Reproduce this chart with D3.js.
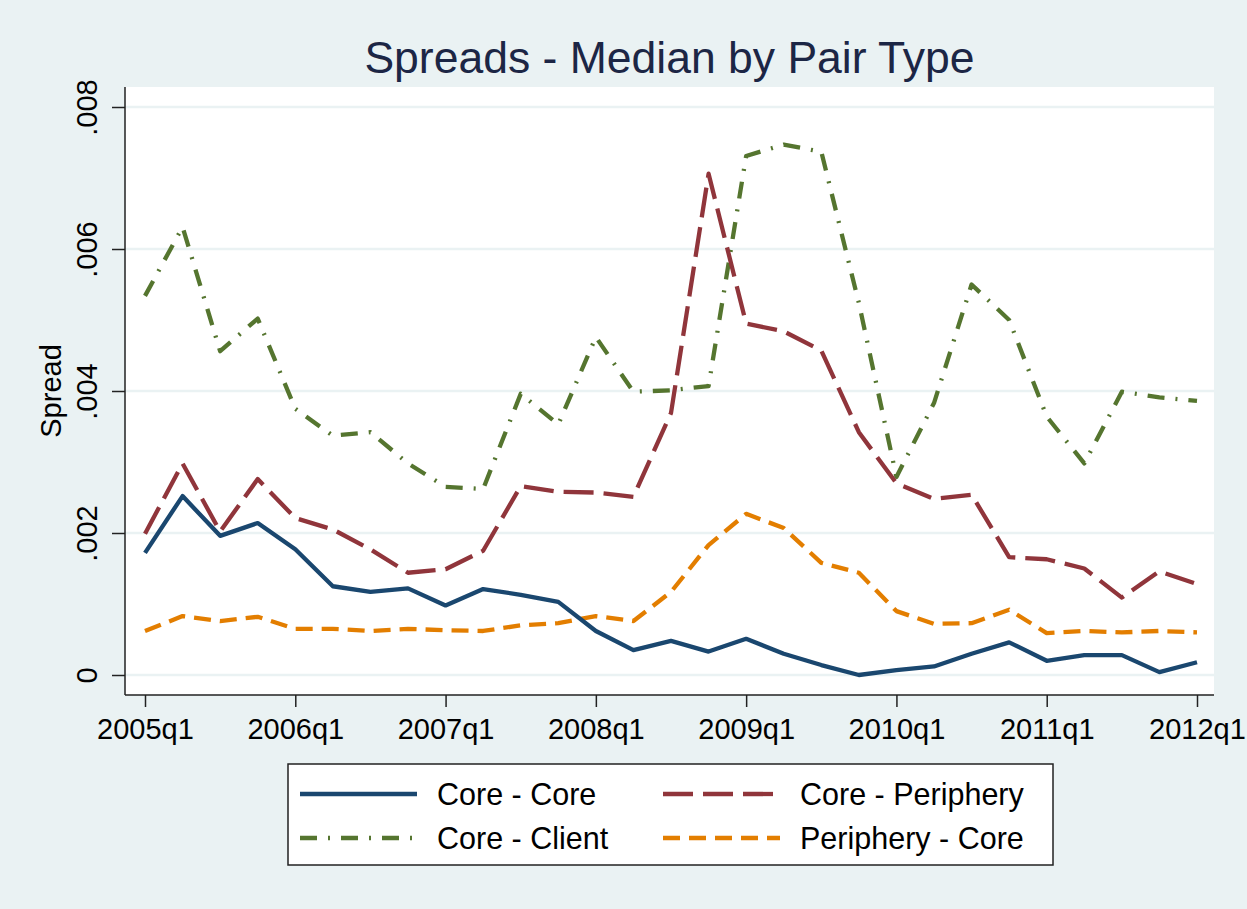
<!DOCTYPE html>
<html>
<head>
<meta charset="utf-8">
<script src="https://cdn.jsdelivr.net/npm/d3@7"></script>
<style>
  body { margin: 0; background: #eaf2f3; }
  text { font-family: Arial, "Liberation Sans", sans-serif; }
</style>
</head>
<body>
<div id="container"></div>
<script>
// quarters on the x axis
var quarters = [
  "2005q1", "2005q2", "2005q3", "2005q4",
  "2006q1", "2006q2", "2006q3", "2006q4",
  "2007q1", "2007q2", "2007q3", "2007q4",
  "2008q1", "2008q2", "2008q3", "2008q4",
  "2009q1", "2009q2", "2009q3", "2009q4",
  "2010q1", "2010q2", "2010q3", "2010q4",
  "2011q1", "2011q2", "2011q3", "2011q4",
  "2012q1"
];
var xTickLabels = ["2005q1", "2006q1", "2007q1", "2008q1", "2009q1", "2010q1", "2011q1", "2012q1"];
var yTickValues = [0, 0.002, 0.004, 0.006, 0.008];

// median spreads by pair type
var coreCore = [0.00172, 0.00252, 0.00196, 0.00214, 0.00177, 0.00125, 0.00117, 0.00122,
  0.00098, 0.00121, 0.00113, 0.00103, 0.00062, 0.00035, 0.00048, 0.00033,
  0.00051, 0.00030, 0.00014, 0.00000, 0.00007, 0.00012, 0.00030, 0.00046,
  0.00020, 0.00028, 0.00028, 0.00004, 0.00018];
var corePeriphery = [0.00199, 0.00298, 0.00202, 0.00276, 0.00221, 0.00205, 0.00177, 0.00144,
  0.00149, 0.00175, 0.00266, 0.00258, 0.00257, 0.00251, 0.00369, 0.00706,
  0.00495, 0.00484, 0.00457, 0.00342, 0.00270, 0.00248, 0.00254, 0.00166,
  0.00163, 0.00150, 0.00109, 0.00146, 0.00128];
var coreClient = [0.00534, 0.00631, 0.00456, 0.00502, 0.00375, 0.00337, 0.00342, 0.00298,
  0.00265, 0.00262, 0.00396, 0.00353, 0.00476, 0.00399, 0.00401, 0.00407,
  0.00731, 0.00747, 0.00737, 0.00524, 0.00279, 0.00383, 0.00550, 0.00500,
  0.00364, 0.00298, 0.00399, 0.00391, 0.00386];
var peripheryCore = [0.00062, 0.00083, 0.00076, 0.00082, 0.00065, 0.00065, 0.00062, 0.00065,
  0.00063, 0.00062, 0.00070, 0.00073, 0.00083, 0.00076, 0.00117, 0.00183,
  0.00227, 0.00207, 0.00158, 0.00144, 0.00090, 0.00072, 0.00073, 0.00092,
  0.00059, 0.00062, 0.00060, 0.00062, 0.00060];

var seriesNames = ["Core - Core", "Core - Periphery", "Core - Client", "Periphery - Core"];

width = 1247;
height = 909;
plot = { left: 125, right: 1214, top: 87, bottom: 695 };

window.onload = function() {
  var svg = d3
    .select("#container")
    .append("svg")
    .attr("width", width)
    .attr("height", height);

  svg
    .append("rect")
    .attr("width", width)
    .attr("height", height)
    .attr("fill", "#eaf2f3");

  // plot region
  svg
    .append("rect")
    .attr("x", plot.left)
    .attr("y", plot.top)
    .attr("width", plot.right - plot.left)
    .attr("height", plot.bottom - plot.top)
    .attr("fill", "#fff");

  var x = d3.scalePoint().domain(quarters).range([145, 1197]);
  var y = d3.scaleLinear().domain([0, 0.008]).range([675, 107]);

  // grid lines
  svg
    .append("g")
    .selectAll("line")
    .data(yTickValues)
    .enter()
    .append("line")
    .attr("x1", plot.left)
    .attr("x2", plot.right)
    .attr("y1", d => y(d))
    .attr("y2", d => y(d))
    .style("stroke", "#eaf2f3")
    .style("stroke-width", 2.5);

  var series = [
    { name: seriesNames[0], values: coreCore, color: "#1a476f", dash: null },
    { name: seriesNames[1], values: corePeriphery, color: "#90353b", dash: "30,10" },
    { name: seriesNames[2], values: coreClient, color: "#55752f", dash: "17,11,2,11" },
    { name: seriesNames[3], values: peripheryCore, color: "#e37e00", dash: "17,9" }
  ];

  var line = d3
    .line()
    .x((d, i) => x(quarters[i]))
    .y(d => y(d));

  // draw order: orange, green, maroon, navy on top
  svg
    .append("g")
    .selectAll("path")
    .data([series[3], series[2], series[1], series[0]])
    .enter()
    .append("path")
    .attr("d", d => line(d.values))
    .style("fill", "none")
    .style("stroke", d => d.color)
    .style("stroke-width", 4.3)
    .style("stroke-linejoin", "round")
    .style("stroke-dasharray", d => d.dash);

  // y axis
  var yAxis = d3
    .axisLeft(y)
    .tickValues(yTickValues)
    .tickSize(13)
    .tickPadding(0)
    .tickFormat(d => (d === 0 ? "0" : d3.format(".3f")(d).replace(/^0/, "")));

  var gy = svg
    .append("g")
    .attr("transform", "translate(" + plot.left + ",0)")
    .call(yAxis);
  gy.select(".domain").remove();
  gy.append("line")
    .attr("y1", plot.top)
    .attr("y2", plot.bottom)
    .style("stroke", "#222")
    .style("stroke-width", 1.5);
  gy.selectAll(".tick line").style("stroke", "#222").style("stroke-width", 1.5);
  gy.selectAll(".tick text")
    .attr("x", null)
    .attr("dy", null)
    .attr("transform", "translate(-28,0) rotate(-90)")
    .attr("text-anchor", "middle")
    .style("font-size", "29px")
    .style("fill", "#000");

  // x axis
  var xAxis = d3
    .axisBottom(x)
    .tickValues(xTickLabels)
    .tickSize(12)
    .tickPadding(0);

  var gx = svg
    .append("g")
    .attr("transform", "translate(0," + plot.bottom + ")")
    .call(xAxis);
  gx.select(".domain").remove();
  gx.append("line")
    .attr("x1", plot.left)
    .attr("x2", plot.right)
    .style("stroke", "#222")
    .style("stroke-width", 1.5);
  gx.selectAll(".tick line").style("stroke", "#222").style("stroke-width", 1.5);
  gx.selectAll(".tick text")
    .attr("y", 44)
    .attr("dy", null)
    .style("font-size", "29px")
    .style("fill", "#000");

  // axis title
  svg
    .append("text")
    .attr("transform", "translate(61," + y(0.004) + ") rotate(-90)")
    .attr("text-anchor", "middle")
    .style("font-size", "29px")
    .text("Spread");

  // chart title
  svg
    .append("text")
    .attr("x", (plot.left + plot.right) / 2)
    .attr("y", 73)
    .attr("text-anchor", "middle")
    .style("font-size", "44.5px")
    .style("fill", "#1c2645")
    .text("Spreads - Median by Pair Type");

  // legend
  var legend = svg.append("g");
  legend
    .append("rect")
    .attr("x", 288)
    .attr("y", 764)
    .attr("width", 765)
    .attr("height", 101)
    .attr("fill", "#fff")
    .style("stroke", "#222")
    .style("stroke-width", 1.5);

  var slots = [
    { x: 300, y: 794 },
    { x: 663, y: 794 },
    { x: 300, y: 838 },
    { x: 663, y: 838 }
  ];

  var item = legend
    .selectAll(".item")
    .data(series)
    .enter()
    .append("g")
    .attr("class", "item")
    .attr("transform", (d, i) => "translate(" + slots[i].x + "," + slots[i].y + ")");

  item
    .append("line")
    .attr("x1", 0)
    .attr("x2", 117)
    .style("stroke", d => d.color)
    .style("stroke-width", 4.3)
    .style("stroke-dasharray", d => d.dash);

  item
    .append("text")
    .attr("x", 137)
    .attr("y", 11)
    .style("font-size", "30.5px")
    .text(d => d.name);
};
</script>
</body>
</html>
